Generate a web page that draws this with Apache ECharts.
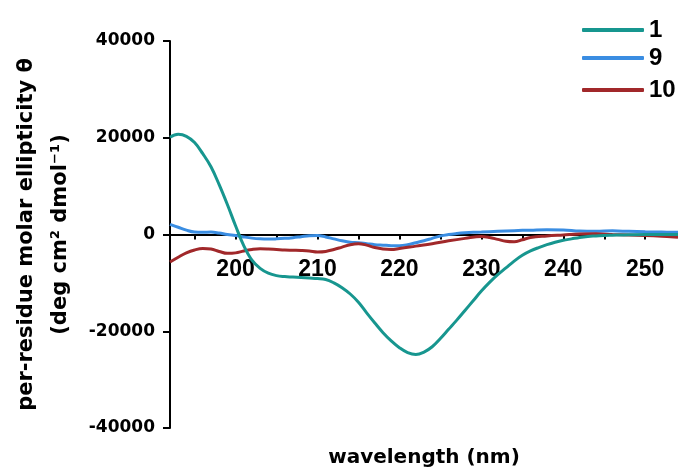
<!DOCTYPE html>
<html>
<head>
<meta charset="utf-8">
<script src="https://cdn.jsdelivr.net/npm/echarts@6/dist/echarts.min.js"></script>
<style>
  html, body { margin: 0; padding: 0; background: #fff; }
  #chart { width: 678px; height: 472px; }
</style>
</head>
<body>
<div id="chart"></div>
<script>
// wavelength (nm) / per-residue molar ellipticity
const wl1 = [192, 193, 194, 195, 196, 197, 198, 199, 200, 201, 202, 203, 204, 205, 206, 207, 208, 209, 210, 211, 212, 213, 214, 215, 216, 217, 218, 219, 220, 221, 222, 223, 224, 225, 226, 227, 228, 229, 230, 231, 232, 233, 234, 235, 236, 237, 238, 239, 240, 241, 242, 243, 244, 245, 246, 247, 248, 250, 252, 254]
const cd1 = [20100, 20700, 20300, 19000, 16700, 14000, 10300, 6200, 1800, -2300, -5300, -7000, -8000, -8500, -8700, -8800, -8900, -9000, -9100, -9300, -10000, -11000, -12300, -14000, -16200, -18300, -20300, -22000, -23400, -24400, -24800, -24300, -23200, -21500, -19600, -17700, -15700, -13700, -11700, -9900, -8300, -6900, -5500, -4300, -3400, -2700, -2100, -1600, -1200, -900, -600, -400, -300, -200, -150, -100, -50, 0, 0, 0]

const wl9 = [192, 193, 194, 195, 196, 197, 198, 199, 200, 201, 202, 203, 204, 205, 206, 207, 208, 209, 210, 211, 212, 213, 214, 215, 216, 217, 218, 219, 220, 221, 222, 223, 224, 225, 226, 227, 228, 229, 230, 232, 234, 236, 238, 240, 242, 244, 246, 248, 250, 252, 254]
const cd9 = [2100, 1500, 900, 500, 450, 500, 300, 0, -200, -500, -750, -900, -950, -900, -800, -650, -450, -250, -200, -500, -900, -1300, -1600, -1700, -1900, -2100, -2200, -2300, -2300, -2100, -1700, -1300, -800, -300, 0, 200, 350, 450, 500, 650, 800, 900, 1000, 950, 700, 650, 750, 650, 550, 500, 450]

const wl10 = [192, 193, 194, 195, 196, 197, 198, 199, 200, 201, 202, 203, 204, 205, 206, 207, 208, 209, 210, 211, 212, 213, 214, 215, 216, 217, 218, 219, 220, 222, 224, 226, 228, 230, 231, 232, 233, 234, 235, 236, 238, 240, 242, 244, 246, 248, 250, 252, 254]
const cd10 = [-5700, -4700, -3800, -3200, -2900, -3000, -3500, -3900, -3800, -3400, -3100, -2950, -3000, -3100, -3200, -3250, -3300, -3400, -3600, -3500, -3100, -2600, -2100, -1900, -2200, -2700, -3000, -3100, -2900, -2400, -1900, -1300, -800, -400, -600, -1000, -1400, -1500, -1100, -600, -300, -100, 100, 150, 0, -100, -200, -350, -550]

const seriesNames = ['1', '9', '10']
const seriesColors = ['#17968f', '#3a8de2', '#a1282a']

const xTickValues = [195, 200, 205, 210, 215, 220, 225, 230, 235, 240, 245, 250]
const xLabelValues = [200, 210, 220, 230, 240, 250]

const zip = (xs, ys) => xs.map((x, i) => [x, ys[i]])

const axisFont = 'DejaVu Sans'
const legendFont = 'Liberation Sans'

const chart = echarts.init(document.getElementById('chart'), null, { renderer: 'canvas' })

function legendAt(name, top) {
  return {
    data: [name],
    left: 577,
    top,
    itemWidth: 62,
    itemHeight: 4,
    icon: 'roundRect',
    itemGap: 0,
    selectedMode: false,
    textStyle: { fontFamily: legendFont, fontWeight: 'bold', fontSize: 24, lineHeight: 24, color: '#000' },
  }
}

// labels stay at the grid's bottom edge in v6, so pull them up to the zero line
const zeroOffset = 194

chart.setOption({
  animation: false,
  backgroundColor: '#fff',
  legend: [legendAt('1', 13), legendAt('9', 41), legendAt('10', 73)],
  grid: { left: 170, right: 0, top: 41, bottom: 44, containLabel: false, outerBoundsMode: 'none' },
  xAxis: {
    type: 'value',
    min: 192,
    max: 254,
    name: 'wavelength (nm)',
    nameLocation: 'middle',
    nameGap: 20,
    nameTextStyle: { fontFamily: axisFont, fontWeight: 'bold', fontSize: 20, color: '#000' },
    axisLine: { onZero: true, lineStyle: { color: '#000', width: 2 } },
    axisTick: { show: true, length: 5, customValues: xTickValues, lineStyle: { color: '#000', width: 2 } },
    axisLabel: {
      customValues: xLabelValues,
      margin: 24 - zeroOffset,
      fontFamily: legendFont,
      fontWeight: 'bold',
      fontSize: 23,
      color: '#000',
    },
    splitLine: { show: false },
  },
  yAxis: {
    type: 'value',
    min: -40000,
    max: 40000,
    interval: 20000,
    name: 'per-residue molar ellipticity θ\n(deg cm² dmol⁻¹)',
    nameLocation: 'middle',
    nameRotate: 90,
    nameGap: 84,
    nameTextStyle: { fontFamily: axisFont, fontWeight: 'bold', fontSize: 21, lineHeight: 34, color: '#000', align: 'center' },
    axisLine: { show: true, lineStyle: { color: '#000', width: 2 } },
    axisTick: { show: true, length: 7, lineStyle: { color: '#000', width: 2 } },
    axisLabel: {
      margin: 15,
      fontFamily: axisFont,
      fontWeight: 'bold',
      fontSize: 17,
      color: '#000',
      formatter: (v) => String(v),
    },
    splitLine: { show: false },
  },
  series: [
    { name: '9', type: 'line', data: zip(wl9, cd9) },
    { name: '10', type: 'line', data: zip(wl10, cd10) },
    { name: '1', type: 'line', data: zip(wl1, cd1) },
  ].map((s) => {
    const c = seriesColors[seriesNames.indexOf(s.name)]
    return {
      ...s,
      smooth: 0.4,
      showSymbol: false,
      symbol: 'none',
      color: c,
      lineStyle: { color: c, width: 3 },
    }
  }),
})
</script>
</body>
</html>
